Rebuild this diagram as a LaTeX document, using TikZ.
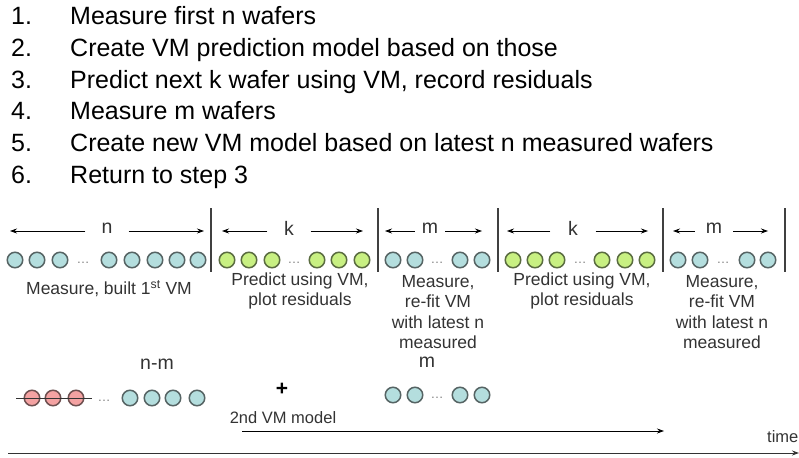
\documentclass[tikz,border=0pt]{standalone}
\usepackage{fontspec}
\setmainfont{Liberation Sans}
\usetikzlibrary{arrows.meta}

\definecolor{waferblue}{HTML}{B4DEDE}
\definecolor{wafergreen}{HTML}{C8F082}
\definecolor{waferred}{HTML}{F4A2A2}
\definecolor{rimgray}{HTML}{566464}
\definecolor{rimgreen}{HTML}{5A6C40}
\definecolor{rimred}{HTML}{6E5050}
\definecolor{inkgray}{HTML}{333333}

\begin{document}
\begin{tikzpicture}[x=1pt,y=-1pt,
  wafer/.style={circle,line width=1.5pt,minimum size=15.5pt,inner sep=0pt},
  meas/.style={wafer,draw=rimgray,fill=waferblue},
  pred/.style={wafer,draw=rimgreen,fill=wafergreen},
  drop/.style={wafer,draw=rimred,fill=waferred},
  gap/.style={text=gray,font=\fontsize{13}{13}\selectfont,inner sep=0pt},
  steptext/.style={anchor=base west,inner sep=0pt,text=black,font=\fontsize{25}{25}\selectfont},
  spanlabel/.style={text=inkgray,font=\fontsize{19.5}{19.5}\selectfont,inner sep=0pt},
  span/.style={-{Stealth[length=7pt,width=5pt]},line width=0.8pt,draw=black},
  divider/.style={line width=1.4pt,draw=black!75},
  caption/.style={text=inkgray,align=center,font=\fontsize{17.5}{20.5}\selectfont},
  axis/.style={-{Stealth[length=7pt,width=5pt]},line width=1pt,draw=black!80}]

\useasboundingbox (0,0) rectangle (799,457);

% numbered procedure
\foreach \i/\t [count=\k from 0] in {
  1./Measure first n wafers,
  2./Create VM prediction model based on those,
  3./{Predict next k wafer using VM, record residuals},
  4./Measure m wafers,
  5./Create new VM model based on latest n measured wafers,
  6./Return to step 3} {
  \node[steptext] (num\i) at (11,25+31.6*\k) {\i};
  \node[steptext] (step\i) at (70,25+31.6*\k) {\t};
}

% wafer sequence: first n measured
\foreach \x [count=\j] in {15,37,60} \node[meas] (a\j) at (\x,260) {};
\node[gap] (ad) at (83,263) {\dots};
\foreach \x [count=\j from 4] in {109,132,155,177,198} \node[meas] (a\j) at (\x,260) {};

% k predicted
\foreach \x [count=\j] in {227,249,272} \node[pred] (b\j) at (\x,260) {};
\node[gap] (bd) at (294,263) {\dots};
\foreach \x [count=\j from 4] in {317,339,362} \node[pred] (b\j) at (\x,260) {};

% m measured
\foreach \x [count=\j] in {393,415} \node[meas] (c\j) at (\x,260) {};
\node[gap] (cd) at (437,263) {\dots};
\foreach \x [count=\j from 3] in {460,482} \node[meas] (c\j) at (\x,260) {};

% k predicted
\foreach \x [count=\j] in {513,535,557} \node[pred] (d\j) at (\x,260) {};
\node[gap] (dd) at (580,263) {\dots};
\foreach \x [count=\j from 4] in {602,625,647} \node[pred] (d\j) at (\x,260) {};

% m measured
\foreach \x [count=\j] in {678,700} \node[meas] (e\j) at (\x,260) {};
\node[gap] (ed) at (723,263) {\dots};
\foreach \x [count=\j from 3] in {747,768} \node[meas] (e\j) at (\x,260) {};

% block dividers
\foreach \x [count=\j] in {211,378,498,663,785}
  \draw[divider] (\x,208) coordinate (top\j) -- (\x,272) coordinate (bot\j);

% span arrows
\node[spanlabel,minimum width=43pt] (nlab) at (107,228) {n};
\coordinate (nL) at (10,231); \coordinate (nR) at (204,231);
\draw[span] (nlab.west |- nL) -- (nL);
\draw[span] (nlab.east |- nR) -- (nR);

\node[spanlabel,minimum width=43pt] (klab1) at (289,228) {k};
\coordinate (k1L) at (222,231); \coordinate (k1R) at (363,231);
\draw[span] (klab1.west |- k1L) -- (k1L);
\draw[span] (klab1.east |- k1R) -- (k1R);

\node[spanlabel,minimum width=30pt] (mlab1) at (430,228) {m};
\coordinate (m1L) at (385,231); \coordinate (m1R) at (482,231);
\draw[span] (mlab1.west |- m1L) -- (m1L);
\draw[span] (mlab1.east |- m1R) -- (m1R);

\node[spanlabel,minimum width=45pt] (klab2) at (573,228) {k};
\coordinate (k2L) at (507,231); \coordinate (k2R) at (648,231);
\draw[span] (klab2.west |- k2L) -- (k2L);
\draw[span] (klab2.east |- k2R) -- (k2R);

\node[spanlabel,minimum width=38pt] (mlab2) at (714,228) {m};
\coordinate (m2L) at (673,231); \coordinate (m2R) at (768,231);
\draw[span] (mlab2.west |- m2L) -- (m2L);
\draw[span] (mlab2.east |- m2R) -- (m2R);

% block captions
\node[caption] (capA) at (109,289) {Measure, built 1\textsuperscript{st} VM};
\node[caption] (capB) at (300,291) {Predict using VM,\\plot residuals};
\node[caption] (capC) at (438,312) {Measure,\\re-fit VM\\with latest n\\measured};
\node[caption] (capD) at (582,291) {Predict using VM,\\plot residuals};
\node[caption] (capE) at (722,312) {Measure,\\re-fit VM\\with latest n\\measured};

% second model: oldest m wafers dropped, newest n-m kept, m new added
\node[spanlabel] (nmlab) at (157,364) {n-m};
\foreach \x [count=\j] in {32,53,76} \node[drop] (r\j) at (\x,398) {};
\coordinate (strikeL) at (16,398); \coordinate (strikeR) at (92,398);
\draw[line width=1pt,draw=black!80] (strikeL) -- (strikeR);
\node[gap] (rd) at (104,401) {\dots};
\foreach \x [count=\j] in {130,152,173,197} \node[meas] (s\j) at (\x,398) {};

\node[text=black,font=\bfseries\fontsize{21}{21}\selectfont,inner sep=0pt] (plus) at (282,389) {+};
\node[text=inkgray,font=\fontsize{16.5}{16.5}\selectfont,inner sep=0pt] (vm2) at (283,418) {2nd VM model};

\node[spanlabel] (mlab3) at (427,362) {m};
\foreach \x [count=\j] in {393,415} \node[meas] (t\j) at (\x,395) {};
\node[gap] (td) at (437,398) {\dots};
\foreach \x [count=\j from 3] in {460,482} \node[meas] (t\j) at (\x,395) {};

% time axes
\coordinate (vmStart) at (242,431); \coordinate (vmEnd) at (664,431);
\draw[span] (vmStart) -- (vmEnd);
\node[text=inkgray,font=\fontsize{16.5}{16.5}\selectfont,anchor=west,inner sep=0pt] (timelab) at (767,437) {time};
\coordinate (tStart) at (8,453); \coordinate (tEnd) at (799,453);
\draw[axis] (tStart) -- (tEnd);
\end{tikzpicture}
\end{document}
